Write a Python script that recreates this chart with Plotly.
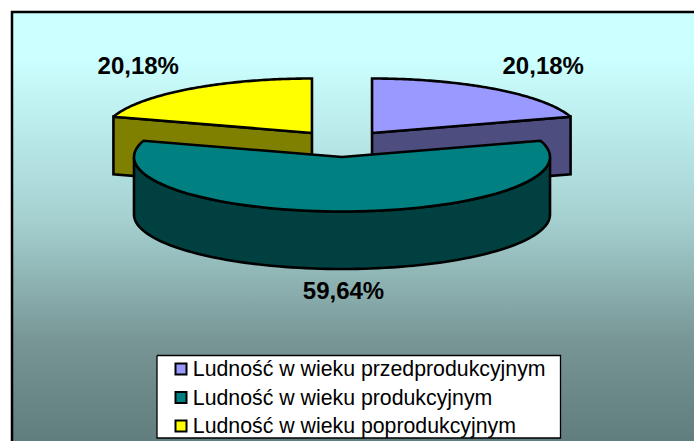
import math
import plotly.graph_objects as go

# Data
categories = ["Ludność w wieku przedprodukcyjnym", "Ludność w wieku produkcyjnym", "Ludność w wieku poprodukcyjnym"]
values = [20.18, 59.64, 20.18]
top_colors = ["#9999ff", "#008080", "#ffff00"]
side_colors = ["#4d4d80", "#004040", "#808000"]

# Pie projection (pixels of the 694x441 canvas)
W, H = 694, 441
CX, CY = 342, 143.7
RX, RY = 208, 54.5
DEPTH = 57.5
EXPLODE = 50.7
K = RY / RX
LABEL_RX, LABEL_UP, LABEL_DOWN = 289, 83, 134
LABEL_NUDGE_X = [0, 1.5, -2.5]
TEXT_DY = 2
LINE = 2.6
BLACK = "#000000"
N = 90

# Legend box layout
LEG_L, LEG_R, LEG_T, LEG_B = 157, 560.5, 355.5, 438
LEG_ROWS = [369, 397.5, 426]
LEG_MARK_X, LEG_TEXT_X = 181, 192.8


def slices():
    """Angular extent of every slice, clockwise from the top."""
    total = sum(values)
    a = 0.0
    out = []
    for v in values:
        b = a + v / total * 2 * math.pi
        out.append((a, b))
        a = b
    return out


def pt(ax, ay, t, r=1.0):
    return ax + RX * r * math.sin(t), ay - RY * r * math.cos(t)


def poly(fig, pts, color, width=LINE):
    xs = [p[0] for p in pts] + [pts[0][0]]
    ys = [p[1] for p in pts] + [pts[0][1]]
    fig.add_trace(go.Scatter(
        x=xs, y=ys, mode="lines", fill="toself", fillcolor=color,
        line=dict(color=BLACK, width=width, simplify=False), showlegend=False, hoverinfo="skip"))


fig = go.Figure()

# Chart background with its vertical gradient
fig.add_trace(go.Scatter(
    x=[12, W + 5, W + 5, 12, 12], y=[12, 12, H + 5, H + 5, 12],
    mode="lines", fill="toself", line=dict(width=0), showlegend=False, hoverinfo="skip",
    fillgradient=dict(
        type="vertical", start=12, stop=441,
        colorscale=[[0, "rgb(204,255,255)"], [0.11, "rgb(204,255,255)"], [0.485, "rgb(165,208,208)"],
                    [0.764, "rgb(120,150,150)"], [1, "rgb(97,125,125)"]],
    )))

ext = slices()
order = [2, 0, 1]  # back slices first, front slice last
for i in order:
    a, b = ext[i]
    mid = (a + b) / 2
    ax = CX + EXPLODE * math.sin(mid)
    ay = CY - EXPLODE * K * math.cos(mid)
    arc = [pt(ax, ay, a + (b - a) * j / N) for j in range(N + 1)]
    if i == 1:
        # outer wall of the front slice: only the part facing the viewer
        lo, hi = max(a, math.pi / 2), min(b, 3 * math.pi / 2)
        wall = [pt(ax, ay, lo + (hi - lo) * j / N) for j in range(N + 1)]
        poly(fig, wall + [(x, y + DEPTH) for x, y in reversed(wall)], side_colors[i])
    else:
        # cut face toward the viewer: from centre to the outer end of the arc
        end = arc[0] if i == 2 else arc[-1]
        poly(fig, [(ax, ay), end, (end[0], end[1] + DEPTH), (ax, ay + DEPTH)], side_colors[i])
    poly(fig, [(ax, ay)] + arc, top_colors[i])

# Data labels
lx, ly, lt = [], [], []
for (a, b), v, nudge in zip(ext, values, LABEL_NUDGE_X):
    mid = (a + b) / 2
    ax = CX + EXPLODE * math.sin(mid)
    ay = CY - EXPLODE * K * math.cos(mid)
    c = math.cos(mid)
    lx.append(ax + LABEL_RX * math.sin(mid) + nudge)
    ly.append(ay - (LABEL_UP if c > 0 else LABEL_DOWN) * c + TEXT_DY)
    lt.append(f"{v:.2f}%".replace(".", ","))
fig.add_trace(go.Scatter(
    x=lx, y=ly, text=lt, mode="text", textposition="middle center",
    textfont=dict(family="Liberation Sans, Arial", size=24, color=BLACK, weight="bold"),
    showlegend=False, hoverinfo="skip"))

# Legend: drawn in the axes so rows can keep the reference's tight spacing
poly(fig, [(LEG_L, LEG_T), (LEG_R, LEG_T), (LEG_R, LEG_B), (LEG_L, LEG_B)], "#ffffff", width=1.3)
fig.add_trace(go.Scatter(
    x=[LEG_MARK_X] * len(categories), y=LEG_ROWS, mode="markers", showlegend=False, hoverinfo="skip",
    marker=dict(symbol="square", size=11, color=top_colors, line=dict(color=BLACK, width=2))))
fig.add_trace(go.Scatter(
    x=[LEG_TEXT_X] * len(categories), y=[r + TEXT_DY for r in LEG_ROWS], text=categories, mode="text",
    textposition="middle right", showlegend=False, hoverinfo="skip",
    textfont=dict(family="Liberation Sans, Arial", size=21.3, color=BLACK)))

fig.update_layout(
    width=W, height=H, autosize=False,
    margin=dict(l=0, r=0, t=0, b=0),
    paper_bgcolor="#ffffff", plot_bgcolor="#ffffff",
    showlegend=False,
    xaxis=dict(range=[0, W], visible=False, fixedrange=True),
    yaxis=dict(range=[H, 0], visible=False, fixedrange=True),
    font=dict(family="Liberation Sans, Arial", color=BLACK),
    shapes=[
        dict(type="line", xref="x", yref="y", x0=12, x1=12, y0=11, y1=H, line=dict(color=BLACK, width=2.5), layer="above"),
        dict(type="line", xref="x", yref="y", x0=11, x1=W, y0=12, y1=12, line=dict(color=BLACK, width=2.5), layer="above"),
    ],
)
fig.write_html(
    "out.html",
    config={"displayModeBar": False},
    post_script="document.body.style.margin='0';document.body.style.overflow='hidden';",
)
